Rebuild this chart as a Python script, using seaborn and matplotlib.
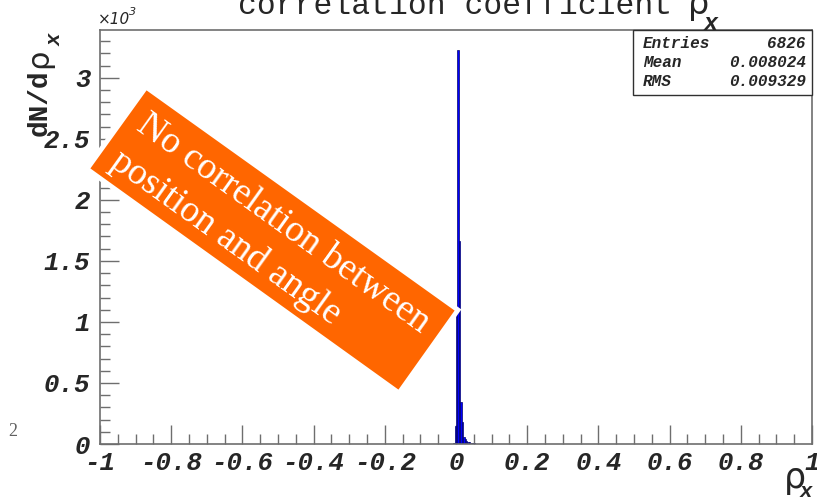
import numpy as np
import pandas as pd
import seaborn as sns
import matplotlib
matplotlib.use("Agg")
import matplotlib.pyplot as plt
from matplotlib.patches import Polygon, Rectangle
from matplotlib.ticker import MultipleLocator

# Histogram of the correlation coefficient rho_x (bin centres and contents)
bin_centers = [-0.006, -0.002, 0.002, 0.006, 0.010, 0.014, 0.018, 0.022, 0.026,
               0.030, 0.034, 0.038, 0.042, 0.046, 0.050, 0.054, 0.058, 0.062]
bin_counts = [10, 150, 1080, 3230, 1660, 340, 180, 60, 40,
              28, 20, 14, 10, 7, 5, 3, 2, 2]

x_tick_values = [-1, -0.8, -0.6, -0.4, -0.2, 0, 0.2, 0.4, 0.6, 0.8, 1]
x_tick_labels = ["-1", "-0.8", "-0.6", "-0.4", "-0.2", "0", "0.2", "0.4", "0.6", "0.8", "1"]
y_tick_values = [0, 500, 1000, 1500, 2000, 2500, 3000]
y_tick_labels = ["0", "0.5", "1", "1.5", "2", "2.5", "3"]

stats_names = ["Entries", "Mean", "RMS"]
stats_values = ["6826", "0.008024", "0.009329"]

W, H = 817, 498
sns.set_style("ticks")
plt.rcParams["font.family"] = ["Liberation Mono", "DejaVu Sans"]
plt.rcParams["axes.unicode_minus"] = False

fig = plt.figure(figsize=(W / 100, H / 100), dpi=100)
ax = fig.add_axes([100 / W, 1 - 444 / H, (812 - 100) / W, (444 - 30) / H])


def px(x, y):
    return (x / W, 1 - y / H)


df = pd.DataFrame({"rho": bin_centers, "n": bin_counts})
sns.histplot(data=df, x="rho", weights="n", binwidth=0.004, binrange=(-1, 1), ax=ax,
             color="#0000ff", edgecolor="#00006a", linewidth=0.5, alpha=1.0)

ax.set_xlim(-1, 1)
ax.set_ylim(0, max(bin_counts) * 1.05)
ax.set_xlabel("")
ax.set_ylabel("")

tick_font = dict(family="Liberation Mono", weight="bold", style="italic", size=18.5)
ax.set_xticks(x_tick_values)
ax.set_xticklabels(x_tick_labels, fontdict=tick_font)
ax.set_yticks(y_tick_values)
ax.set_yticklabels(y_tick_labels, fontdict=tick_font)
ax.xaxis.set_minor_locator(MultipleLocator(0.05))
ax.yaxis.set_minor_locator(MultipleLocator(100))
ax.tick_params(which="major", direction="in", length=14, width=1, color="#6e6e6e", pad=5)
ax.tick_params(which="minor", direction="in", length=7, width=1, color="#6e6e6e")
ax.tick_params(axis="y", pad=7)
for s in ax.spines.values():
    s.set_visible(True)
    s.set_color("#6e6e6e")
    s.set_linewidth(1.2)

# title
fig.text(*px(238, 14), "correlation coefficient", fontsize=22.6,
         family="Liberation Mono", ha="left", va="baseline")
fig.text(*px(688, 14), "\u03c1", fontsize=24, family="DejaVu Sans", ha="left", va="baseline")
fig.text(*px(704, 30), "x", fontsize=17, family="Liberation Mono", weight="bold",
         style="italic", ha="left", va="baseline")

# y axis title
fig.text(*px(47, 136), "dN/d", fontsize=20, family="Liberation Mono", weight="bold",
         rotation=90, ha="left", va="baseline", rotation_mode="anchor")
fig.text(*px(47, 68), "\u03c1", fontsize=22, family="DejaVu Sans",
         rotation=90, ha="left", va="baseline", rotation_mode="anchor")
fig.text(*px(61, 46), "x", fontsize=15, family="Liberation Mono", weight="bold",
         style="italic", rotation=90, ha="left", va="baseline", rotation_mode="anchor")

# exponent marker
fig.text(*px(98, 24), "\u00d710", fontsize=11, family="DejaVu Sans", style="italic",
         ha="left", va="baseline")
fig.text(*px(129, 15), "3", fontsize=8, family="DejaVu Sans", style="italic",
         ha="left", va="baseline")

# x axis title
fig.text(*px(784, 488), "\u03c1", fontsize=25, family="DejaVu Sans", ha="left", va="baseline")
fig.text(*px(800, 497), "x", fontsize=15, family="Liberation Mono", weight="bold",
         style="italic", ha="left", va="baseline")

# statistics box
x0, y0, x1, y1 = 633, 30, 812, 95
fig.add_artist(Rectangle(px(x0, y1), (x1 - x0) / W, (y1 - y0) / H, transform=fig.transFigure,
                         facecolor="white", edgecolor="#303030", linewidth=1, zorder=4))
for i, (name, val) in enumerate(zip(stats_names, stats_values)):
    yy = 48 + i * 19
    fig.text(*px(643, yy), name, fontsize=11.5, family="Liberation Mono", weight="bold",
             style="italic", ha="left", va="baseline", zorder=5)
    fig.text(*px(806, yy), val, fontsize=11.5, family="Liberation Mono", weight="bold",
             style="italic", ha="right", va="baseline", zorder=5)

# annotation banner
corners = [px(146, 87), px(458, 310), px(399, 393), px(87, 169)]
fig.add_artist(Polygon(corners, closed=True, transform=fig.transFigure,
                       facecolor="#ff6600", edgecolor="white", linewidth=3.5, zorder=6))
fig.text(*px(270, 242), "No correlation between\nposition and angle", fontsize=27,
         family="Liberation Serif", color="white", rotation=-35.6, rotation_mode="anchor",
         ha="center", va="center", multialignment="left", linespacing=1.35, zorder=7)

# page number
fig.text(*px(8, 436), "2", fontsize=13, family="Liberation Serif", color="#606060",
         ha="left", va="baseline")

fig.savefig("out.png", dpi=100)
